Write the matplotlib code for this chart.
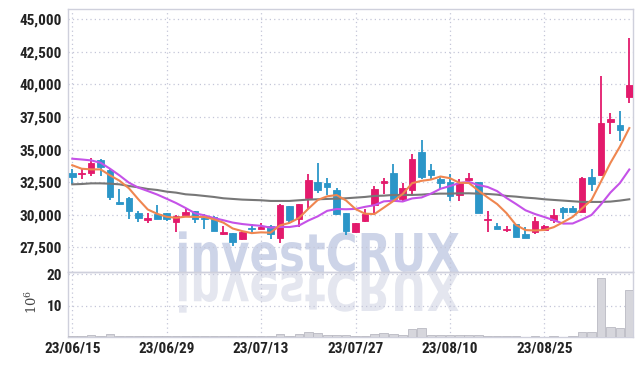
import numpy as np
import matplotlib
matplotlib.use("Agg")
import matplotlib.pyplot as plt
from matplotlib.textpath import TextPath
from matplotlib.patches import PathPatch
from matplotlib.font_manager import FontProperties, fontManager
from matplotlib.transforms import Affine2D, IdentityTransform
from matplotlib.ticker import FuncFormatter

plt.rcParams['mathtext.fontset'] = 'dejavuserif'

# ---------------- data ----------------
tick_pos = [0, 10, 20, 30, 40, 50]
tick_labels = ['23/06/15', '23/06/29', '23/07/13', '23/07/27', '23/08/10', '23/08/25']

opens = [33170, 33100, 33200, 34170, 33430, 30980, 31290, 30120, 29630, 30040,
         30170, 29480, 29990, 30270, 29785, 29840, 28510, 28560, 28100, 28990,
         28890, 29150, 28180, 30700, 29660, 31260, 32510, 32410, 31870, 30170,
         28640, 29530, 30780, 32460, 33170, 31190, 31870, 34800, 33400, 32720,
         32540, 31520, 32660, 32510, 29580, 29100, 28820, 29280, 28510, 28640,
         28790, 29580, 30500, 30500, 30240, 32920, 33050, 37100, 36920, 39030]
highs = [33480, 33480, 34370, 34250, 33530, 32000, 31340, 30320, 30120, 30780,
         30170, 30010, 30470, 30320, 30040, 29910, 29150, 28610, 28770, 29275,
         29400, 29200, 30800, 30700, 30800, 33100, 33940, 32840, 32080, 30170,
         29350, 30470, 32210, 32840, 33860, 32460, 34630, 35770, 33860, 32970,
         33100, 32770, 33230, 32510, 30290, 29400, 29150, 29280, 29070, 29790,
         29220, 30420, 30600, 30680, 32920, 33530, 40620, 37810, 37940, 43550]
lows = [32330, 32720, 32970, 32970, 31110, 30730, 29660, 29450, 29400, 29660,
        29530, 28640, 29910, 29400, 28890, 28740, 28430, 27620, 28050, 28640,
        28890, 28130, 27800, 29400, 29020, 30470, 31700, 31490, 30010, 28430,
        28590, 29450, 29960, 31620, 31190, 31060, 31570, 32770, 32720, 32000,
        31060, 31060, 32410, 30170, 28640, 28920, 28640, 28260, 28230, 28490,
        28770, 29350, 29710, 30240, 30240, 31820, 32970, 36160, 35650, 38580]
closes = [32890, 33200, 33990, 33680, 31360, 30830, 30290, 29760, 29760, 29710,
          29680, 29910, 30190, 29660, 29710, 28770, 28640, 27930, 28660, 28940,
          29070, 28510, 30730, 29610, 30800, 32640, 31870, 32150, 30090, 28720,
          29350, 30090, 32000, 32560, 31240, 32080, 34240, 32890, 33050, 32410,
          31440, 32460, 32840, 30170, 29710, 28920, 28940, 28310, 28230, 29550,
          29120, 30010, 30240, 30240, 32840, 32360, 37050, 37380, 36490, 39980]

ma5 = [33800, 33530, 33480, 33480, 33020, 32612, 32030, 31184, 30400, 30070,
       29840, 29764, 29850, 29830, 29830, 29648, 29394, 28942, 28742, 28588,
       28648, 28622, 29182, 29372, 29744, 30458, 31130, 31414, 31510, 31094,
       30436, 30080, 30050, 30544, 31048, 31594, 32424, 32602, 32700, 32934,
       32806, 32450, 32440, 31864, 31324, 30820, 30116, 29210, 28822, 28790,
       28830, 29044, 29430, 29832, 30490, 31138, 32546, 33974, 35224, 36652]
ma10 = [34300, 34240, 34170, 33990, 33530, 33020, 32460, 32080, 31820, 31547,
        31226, 30897, 30517, 30115, 29950, 29744, 29579, 29396, 29286, 29209,
        29148, 29008, 29062, 29057, 29166, 29553, 29876, 30298, 30441, 30419,
        30447, 30605, 30732, 31027, 31071, 31015, 31252, 31326, 31622, 31991,
        32200, 32437, 32521, 32282, 32129, 31813, 31283, 30825, 30343, 30057,
        29825, 29580, 29320, 29327, 29640, 29984, 30795, 31702, 32428, 33471]
ma60 = [32333, 32358, 32409, 32409, 32384, 32333, 32206, 32104, 31976, 31900,
        31772, 31696, 31568, 31518, 31441, 31364, 31263, 31212, 31161, 31135,
        31110, 31059, 31059, 31059, 31110, 31161, 31186, 31212, 31237, 31263,
        31314, 31364, 31441, 31466, 31518, 31518, 31518, 31543, 31594, 31620,
        31620, 31645, 31645, 31620, 31594, 31543, 31441, 31390, 31314, 31263,
        31186, 31135, 31085, 31034, 30983, 30983, 30983, 31008, 31085, 31186]

volume = [0.3, 0.4, 0.6, 0.3, 1.0, 0.3, 0.3, 0.3, 0.2, 0.2,
          0.2, 0.2, 0.2, 0.2, 0.3, 0.3, 0.2, 0.2, 0.2, 0.2,
          0.2, 0.3, 0.9, 0.4, 1.1, 1.5, 1.2, 0.7, 0.6, 0.5,
          0.4, 0.4, 0.9, 1.2, 0.9, 0.6, 2.4, 2.9, 0.6, 0.6,
          0.5, 0.5, 0.5, 0.5, 0.3, 0.2, 0.2, 0.2, 0.1, 0.3,
          0.1, 0.3, 0.1, 0.3, 1.5, 1.5, 18.7, 3.2, 2.9, 15.0]

# ---------------- styling ----------------
UP = '#e31a6c'
DOWN = '#2b96c8'
GRID = '#c4c6d8'
SPINE = '#cfd0dc'
TXT = '#222222'

installed = {f.name for f in fontManager.ttflist}
narrow = None
for cand in ['Roboto Condensed', 'Liberation Sans Narrow', 'Arial Narrow']:
    if cand in installed:
        narrow = cand
        break
if narrow is None:
    tick_font = dict(family=['Roboto', 'DejaVu Sans'], weight='bold', size=10)
else:
    tick_font = dict(family=[narrow, 'DejaVu Sans'], weight='bold', size=11)

W, H = 642, 366
fig = plt.figure(figsize=(W / 100, H / 100), dpi=100)
fig.patch.set_facecolor('white')

L, R = 68.3, 632.7
ax = fig.add_axes([L / W, 1 - 272 / H, (R - L) / W, (272 - 9.3) / H])
axv = fig.add_axes([L / W, 1 - 337 / H, (R - L) / W, 65 / H], sharex=ax)
for a in (ax, axv):
    a.patch.set_visible(False)
    for s in a.spines.values():
        s.set_color(SPINE)
        s.set_linewidth(1.0)
    a.set_axisbelow(True)
    a.grid(True, linestyle=(0, (1, 2.5)), color=GRID, linewidth=0.9)
    a.tick_params(length=0)

n = len(closes)
x = np.arange(n)
o = np.array(opens); c = np.array(closes)
hi = np.array(highs); lo = np.array(lows)
up = c >= o
cols = np.where(up, UP, DOWN)

ax.vlines(x, lo, hi, colors=cols, linewidth=1.3, zorder=3)
body_bottom = np.minimum(o, c)
body_h = np.maximum(np.abs(c - o), 70)
ax.bar(x, body_h, bottom=body_bottom, width=0.7, color=cols, edgecolor=cols,
       linewidth=0.6, zorder=4)

ax.plot(x, ma60, color='#777777', linewidth=1.5, zorder=5)
ax.plot(x, ma10, color='#c552e8', linewidth=1.5, zorder=5)
ax.plot(x, ma5, color='#ef8650', linewidth=1.5, zorder=6)

ax.set_xlim(-0.42, 59.36)
ax.set_ylim(25604, 45768)
ax.set_yticks([27500, 30000, 32500, 35000, 37500, 40000, 42500, 45000])
ax.yaxis.set_major_formatter(FuncFormatter(lambda v, p: f'{int(v):,}'))
ax.set_xticks(tick_pos)
ax.tick_params(labelbottom=False, pad=4.5)
for lab in ax.get_yticklabels():
    lab.set_fontproperties(FontProperties(**tick_font))
    lab.set_color(TXT)

axv.bar(x, volume, width=0.92, color='#d6d6dc', edgecolor='#b9b9c2', linewidth=0.6, zorder=3)
axv.set_ylim(0, 20.7)
axv.set_yticks([10, 20])
axv.set_yticklabels(['10', '20'])
axv.set_xticks(tick_pos)
axv.set_xticklabels(tick_labels)
axv.tick_params(axis='y', pad=4.5)
axv.tick_params(axis='x', pad=3.5)
for lab in axv.get_yticklabels() + axv.get_xticklabels():
    lab.set_fontproperties(FontProperties(**tick_font))
    lab.set_color(TXT)

fig.text(32 / W, 1 - 302 / H, r'$10^6$', rotation=90, ha='center', va='center',
         fontsize=9.5, color='#444444')

# ---------------- watermark with reflection ----------------
fp = FontProperties(family='DejaVu Sans', weight='bold')
tp = TextPath((0, 0), 'investCRUX', size=1, prop=fp)
ext = tp.get_extents()
cap_h = TextPath((0, 0), 'R', size=1, prop=fp).get_extents().y1
x0, x1, base, cap_px = 179, 459, 272, 39
sx = (x1 - x0) / ext.width
sy = cap_px / cap_h
t_main = Affine2D().translate(-ext.x0, 0).scale(sx, sy).translate(x0, H - base)
t_refl = Affine2D().translate(-ext.x0, 0).scale(sx, -sy).translate(x0, H - base)
fig.add_artist(PathPatch(t_main.transform_path(tp), transform=IdentityTransform(),
                         facecolor='#cdd4e8', edgecolor='none', zorder=-1))
fig.add_artist(PathPatch(t_refl.transform_path(tp), transform=IdentityTransform(),
                         facecolor='#e4e6ef', edgecolor='none', zorder=-1))

fig.savefig('out.png', dpi=100, facecolor='white')
